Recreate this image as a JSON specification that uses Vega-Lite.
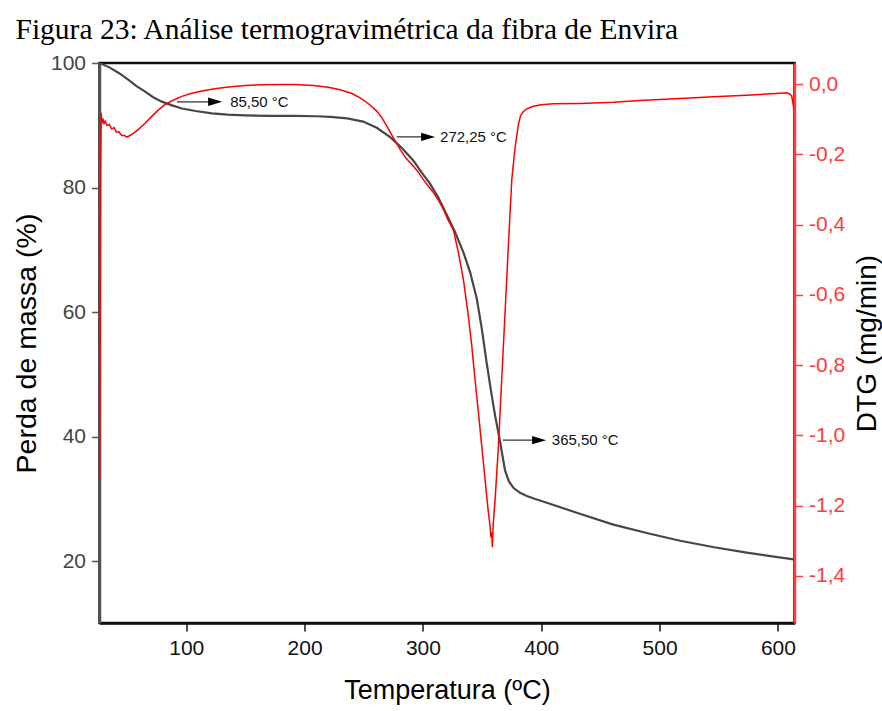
{
  "$schema": "https://vega.github.io/schema/vega-lite/v6.json",
  "width": 695,
  "height": 560,
  "autosize": {"type": "none"},
  "padding": {"left": 99.5, "top": 63, "right": 87.5, "bottom": 88},
  "background": "white",
  "config": {"view": {"stroke": "#111", "strokeWidth": 2.5}, "font": "Liberation Sans"},
  "title": {
    "text": "Figura 23: Análise termogravimétrica da fibra de Envira",
    "anchor": "start",
    "frame": "group",
    "dx": -84,
    "dy": 28,
    "offset": 12,
    "baseline": "alphabetic",
    "font": "Liberation Serif",
    "fontSize": 29.5,
    "fontWeight": "normal",
    "color": "#000"
  },
  "datasets": {
    "tg": [
      {"T": 26.8, "TG": 100.0}, {"T": 35, "TG": 99.3}, {"T": 43, "TG": 98.4}, {"T": 51.2, "TG": 97.3},
      {"T": 58, "TG": 96.3}, {"T": 65.3, "TG": 95.4}, {"T": 72, "TG": 94.5}, {"T": 79.4, "TG": 93.8},
      {"T": 88, "TG": 93.2}, {"T": 96.3, "TG": 92.7}, {"T": 108, "TG": 92.3}, {"T": 121.6, "TG": 91.9},
      {"T": 135, "TG": 91.7}, {"T": 149.8, "TG": 91.6}, {"T": 170, "TG": 91.5}, {"T": 192, "TG": 91.5},
      {"T": 210, "TG": 91.45}, {"T": 221.6, "TG": 91.35}, {"T": 236, "TG": 91.1}, {"T": 249.5, "TG": 90.6},
      {"T": 261, "TG": 89.6}, {"T": 272.3, "TG": 88.1}, {"T": 282, "TG": 86.4}, {"T": 291.7, "TG": 84.4},
      {"T": 299, "TG": 82.4}, {"T": 306.1, "TG": 80.6}, {"T": 313, "TG": 78.4}, {"T": 320.2, "TG": 75.6},
      {"T": 327, "TG": 72.9}, {"T": 334.2, "TG": 69.6}, {"T": 339.9, "TG": 66.4}, {"T": 345.5, "TG": 62.2},
      {"T": 349.7, "TG": 57.4}, {"T": 354.0, "TG": 51.7}, {"T": 358, "TG": 46.8}, {"T": 361.0, "TG": 43.4},
      {"T": 365.2, "TG": 39.2}, {"T": 369.4, "TG": 34.6}, {"T": 372.5, "TG": 32.9}, {"T": 376.4, "TG": 31.8},
      {"T": 382.1, "TG": 31.0}, {"T": 387.8, "TG": 30.5}, {"T": 395, "TG": 30.0}, {"T": 404.7, "TG": 29.4},
      {"T": 430, "TG": 27.8}, {"T": 460.9, "TG": 25.9}, {"T": 490, "TG": 24.5}, {"T": 517.3, "TG": 23.3},
      {"T": 545, "TG": 22.3}, {"T": 573.6, "TG": 21.4}, {"T": 595, "TG": 20.8}, {"T": 613.5, "TG": 20.3}
    ],
    "dtg": [
      {"T": 26.9, "DTG": -1.128}, {"T": 27.6, "DTG": -0.252}, {"T": 28.2, "DTG": -0.082}, {"T": 28.8, "DTG": -0.112},
      {"T": 29.5, "DTG": -0.098}, {"T": 30.5, "DTG": -0.112}, {"T": 31.5, "DTG": -0.106}, {"T": 33, "DTG": -0.118},
      {"T": 35, "DTG": -0.115}, {"T": 37, "DTG": -0.128}, {"T": 39, "DTG": -0.124}, {"T": 41, "DTG": -0.137},
      {"T": 43, "DTG": -0.136}, {"T": 45.6, "DTG": -0.147}, {"T": 47.5, "DTG": -0.146}, {"T": 49.8, "DTG": -0.151},
      {"T": 52, "DTG": -0.147}, {"T": 55, "DTG": -0.141}, {"T": 59.6, "DTG": -0.129}, {"T": 65, "DTG": -0.112},
      {"T": 70.9, "DTG": -0.092}, {"T": 76, "DTG": -0.075}, {"T": 82.2, "DTG": -0.058}, {"T": 89, "DTG": -0.046},
      {"T": 96.3, "DTG": -0.035}, {"T": 104, "DTG": -0.027}, {"T": 113.2, "DTG": -0.020}, {"T": 124, "DTG": -0.013},
      {"T": 135.7, "DTG": -0.008}, {"T": 150, "DTG": -0.004}, {"T": 163.9, "DTG": -0.002}, {"T": 180, "DTG": -0.001},
      {"T": 192, "DTG": -0.001}, {"T": 207.5, "DTG": -0.004}, {"T": 220, "DTG": -0.009}, {"T": 230, "DTG": -0.016},
      {"T": 240, "DTG": -0.027}, {"T": 246.9, "DTG": -0.039}, {"T": 254, "DTG": -0.056}, {"T": 261, "DTG": -0.077},
      {"T": 265.5, "DTG": -0.097}, {"T": 269.5, "DTG": -0.120}, {"T": 275.1, "DTG": -0.153}, {"T": 280.7, "DTG": -0.186},
      {"T": 286, "DTG": -0.212}, {"T": 292, "DTG": -0.234}, {"T": 296, "DTG": -0.250}, {"T": 300.4, "DTG": -0.272},
      {"T": 304.5, "DTG": -0.290}, {"T": 308.9, "DTG": -0.309}, {"T": 313, "DTG": -0.330}, {"T": 317.3, "DTG": -0.357},
      {"T": 321, "DTG": -0.385}, {"T": 325.7, "DTG": -0.414}, {"T": 330, "DTG": -0.480}, {"T": 334.2, "DTG": -0.556},
      {"T": 338, "DTG": -0.650}, {"T": 341.3, "DTG": -0.746}, {"T": 344, "DTG": -0.840}, {"T": 346.9, "DTG": -0.935},
      {"T": 350, "DTG": -1.040}, {"T": 352.5, "DTG": -1.125}, {"T": 355, "DTG": -1.210}, {"T": 356.7, "DTG": -1.258},
      {"T": 357.5, "DTG": -1.290}, {"T": 358.2, "DTG": -1.276}, {"T": 358.7, "DTG": -1.318}, {"T": 359.2, "DTG": -1.270},
      {"T": 359.5, "DTG": -1.248}, {"T": 361.0, "DTG": -1.182}, {"T": 363.8, "DTG": -1.030}, {"T": 366.6, "DTG": -0.840},
      {"T": 369.4, "DTG": -0.651}, {"T": 372.2, "DTG": -0.461}, {"T": 375.1, "DTG": -0.272}, {"T": 377.9, "DTG": -0.180},
      {"T": 380.7, "DTG": -0.115}, {"T": 382.5, "DTG": -0.090}, {"T": 384.9, "DTG": -0.078}, {"T": 388, "DTG": -0.070},
      {"T": 393.3, "DTG": -0.063}, {"T": 400, "DTG": -0.059}, {"T": 410.2, "DTG": -0.056}, {"T": 432.8, "DTG": -0.055},
      {"T": 460.9, "DTG": -0.052}, {"T": 483.5, "DTG": -0.047}, {"T": 517.3, "DTG": -0.041}, {"T": 545.4, "DTG": -0.036},
      {"T": 573.6, "DTG": -0.032}, {"T": 601.8, "DTG": -0.026}, {"T": 607.4, "DTG": -0.025}, {"T": 610, "DTG": -0.028},
      {"T": 611.7, "DTG": -0.035}, {"T": 613.6, "DTG": -0.073}
    ],
    "ann": [
      {"T0": 92.1, "T1": 124.4, "Tt": 137.1, "Y": 93.77, "label": "85,50 °C"},
      {"T0": 277.9, "T1": 304.4, "Tt": 314.5, "Y": 88.14, "label": "272,25 °C"},
      {"T0": 367.5, "T1": 398.2, "Tt": 408.9, "Y": 39.45, "label": "365,50 °C"}
    ]
  },
  "layer": [
    {
      "layer": [
        {
          "data": {"name": "tg"},
          "mark": {"type": "line", "color": "#474747", "strokeWidth": 2.2, "clip": true},
          "encoding": {
            "x": {
              "field": "T", "type": "quantitative", "title": "Temperatura (ºC)",
              "scale": {"domain": [26.7, 614], "nice": false, "zero": false},
              "axis": {
                "values": [100, 200, 300, 400, 500, 600], "grid": false,
                "tickSize": 8, "tickWidth": 1.5, "tickColor": "#111",
                "domainColor": "#111", "domainWidth": 2.5,
                "labelFont": "Liberation Sans", "labelFontSize": 21, "labelColor": "#111", "labelPadding": 6,
                "titleFont": "Liberation Sans", "titleFontSize": 27, "titleFontWeight": "normal", "titleColor": "#000", "titlePadding": 19
              }
            },
            "y": {
              "field": "TG", "type": "quantitative", "title": "Perda de massa (%)",
              "scale": {"domain": [10.1, 100], "nice": false, "zero": false},
              "axis": {
                "values": [20, 40, 60, 80, 100], "grid": false, "orient": "left",
                "tickSize": 8, "tickWidth": 1.5, "tickColor": "#555",
                "domainColor": "#555", "domainWidth": 2.5,
                "labelFont": "Liberation Sans", "labelFontSize": 21, "labelColor": "#444", "labelPadding": 6,
                "titleFont": "Liberation Sans", "titleFontSize": 28.5, "titleFontWeight": "normal", "titleColor": "#000", "titlePadding": 9
              }
            }
          }
        },
        {
          "data": {"name": "ann"},
          "mark": {"type": "rule", "color": "#333", "strokeWidth": 1.3},
          "encoding": {
            "x": {"field": "T0", "type": "quantitative", "title": "Temperatura (ºC)"},
            "x2": {"field": "T1"},
            "y": {"field": "Y", "type": "quantitative", "title": "Perda de massa (%)", "scale": {"domain": [10.1, 100], "nice": false, "zero": false}}
          }
        },
        {
          "data": {"name": "ann"},
          "mark": {"type": "point", "shape": "M-1,-0.6L1,0L-1,0.6Z", "filled": true, "color": "#000", "opacity": 1, "size": 196, "strokeWidth": 0},
          "encoding": {
            "x": {"field": "T1", "type": "quantitative", "title": "Temperatura (ºC)"},
            "y": {"field": "Y", "type": "quantitative", "title": "Perda de massa (%)", "scale": {"domain": [10.1, 100], "nice": false, "zero": false}}
          }
        },
        {
          "data": {"name": "ann"},
          "mark": {"type": "text", "align": "left", "baseline": "middle", "font": "Liberation Sans", "fontSize": 15, "color": "#111"},
          "encoding": {
            "x": {"field": "Tt", "type": "quantitative", "title": "Temperatura (ºC)"},
            "y": {"field": "Y", "type": "quantitative", "title": "Perda de massa (%)", "scale": {"domain": [10.1, 100], "nice": false, "zero": false}},
            "text": {"field": "label"}
          }
        }
      ]
    },
    {
      "data": {"name": "dtg"},
      "mark": {"type": "line", "color": "#ff0000", "strokeWidth": 1.5, "clip": true},
      "encoding": {
        "x": {"field": "T", "type": "quantitative", "title": "Temperatura (ºC)"},
        "y": {
          "field": "DTG", "type": "quantitative", "title": "DTG (mg/min)",
          "scale": {"domain": [-1.534, 0.06], "nice": false, "zero": false},
          "axis": {
            "orient": "right", "values": [0, -0.2, -0.4, -0.6, -0.8, -1.0, -1.2, -1.4], "grid": false,
            "labelExpr": "(datum.value < 0 ? '-' : '') + replace(format(abs(datum.value), '.1f'), '.', ',')",
            "tickSize": 8, "tickWidth": 1.5, "tickColor": "#ff4040",
            "domainColor": "#ff4040", "domainWidth": 2.5,
            "labelFont": "Liberation Sans", "labelFontSize": 21, "labelColor": "#ff3b3b", "labelPadding": 6,
            "titleFont": "Liberation Sans", "titleFontSize": 28, "titleFontWeight": "normal", "titleColor": "#000",
            "titlePadding": 9, "titleAngle": 270, "titleBaseline": "top"
          }
        }
      }
    }
  ],
  "resolve": {"scale": {"y": "independent"}}
}
